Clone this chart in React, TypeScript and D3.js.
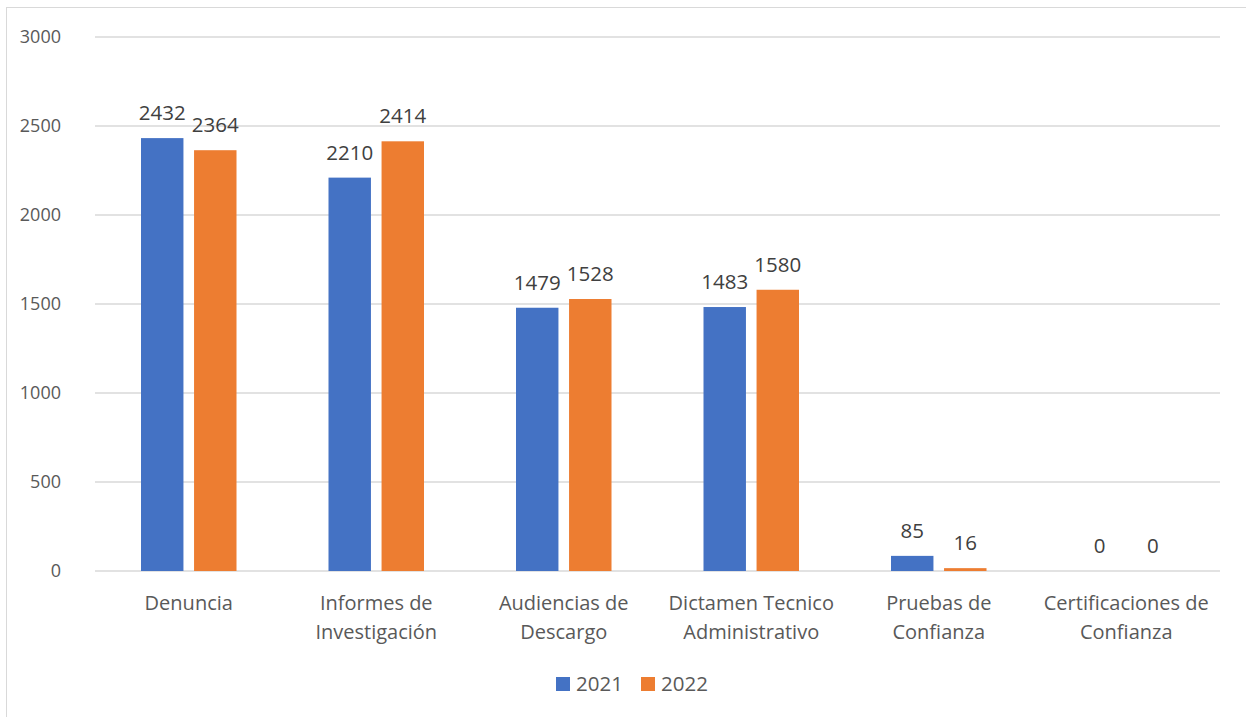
import React from "react";
import * as d3 from "d3";

const categories: string[][] = [
  ["Denuncia"],
  ["Informes de", "Investigación"],
  ["Audiencias de", "Descargo"],
  ["Dictamen Tecnico", "Administrativo"],
  ["Pruebas de", "Confianza"],
  ["Certificaciones de", "Confianza"],
];
const seriesNames = ["2021", "2022"];
const values2021 = [2432, 2210, 1479, 1483, 85, 0];
const values2022 = [2364, 2414, 1528, 1580, 16, 0];
const yTicks = [0, 500, 1000, 1500, 2000, 2500, 3000];
const colors = ["#4472C4", "#ED7D31"];

const W = 1246;
const H = 717;
const FONT = "'Open Sans', 'Noto Sans', sans-serif";

export default function App() {
  const x0 = d3
    .scaleBand<number>()
    .domain(categories.map((_, i) => i))
    .range([95, 1220])
    .paddingInner(0)
    .paddingOuter(0);
  const x1 = d3
    .scaleBand<number>()
    .domain([0, 1])
    .range([46, x0.bandwidth() - 46])
    .paddingInner(0.2);
  const y = d3.scaleLinear().domain([0, 3000]).range([571, 37]);
  const series = [values2021, values2022];

  return (
    <svg
      width={W}
      height={H}
      style={{ position: "absolute", left: 0, top: 0, background: "#fff" }}
      fontFamily={FONT}
    >
      <rect x={6.5} y={7.5} width={W + 10} height={H + 10} fill="#fff" stroke="#d9d9d9" strokeWidth={1} />
      {yTicks.map((t) => (
        <g key={t}>
          <line x1={95} x2={1220} y1={y(t)} y2={y(t)} stroke="#d9d9d9" strokeWidth={1.3} />
          <text x={61} y={y(t)} dy="0.36em" textAnchor="end" fontSize={18} fill="#595959">
            {t}
          </text>
        </g>
      ))}
      {series.map((vals, s) =>
        vals.map((v, i) => {
          const bx = (x0(i) as number) + (x1(s) as number);
          const bw = x1.bandwidth();
          return (
            <g key={`${s}-${i}`}>
              <rect x={bx} y={y(v)} width={bw} height={y(0) - y(v)} fill={colors[s]} />
              <text x={bx + bw / 2} y={y(v) - 18} textAnchor="middle" fontSize={20.5} fill="#404040">
                {v}
              </text>
            </g>
          );
        })
      )}
      {categories.map((lines, i) => (
        <text
          key={i}
          x={(x0(i) as number) + x0.bandwidth() / 2}
          y={610}
          textAnchor="middle"
          fontSize={20}
          fill="#595959"
        >
          {lines.map((l, j) => (
            <tspan key={j} x={(x0(i) as number) + x0.bandwidth() / 2} dy={j === 0 ? 0 : 29}>
              {l}
            </tspan>
          ))}
        </text>
      ))}
      {seriesNames.map((n, s) => (
        <g key={n} transform={`translate(${556 + s * 85},677)`}>
          <rect x={0} y={0} width={14} height={14} fill={colors[s]} />
          <text x={20} y={7} dy="0.36em" fontSize={20.5} fill="#595959">
            {n}
          </text>
        </g>
      ))}
    </svg>
  );
}
